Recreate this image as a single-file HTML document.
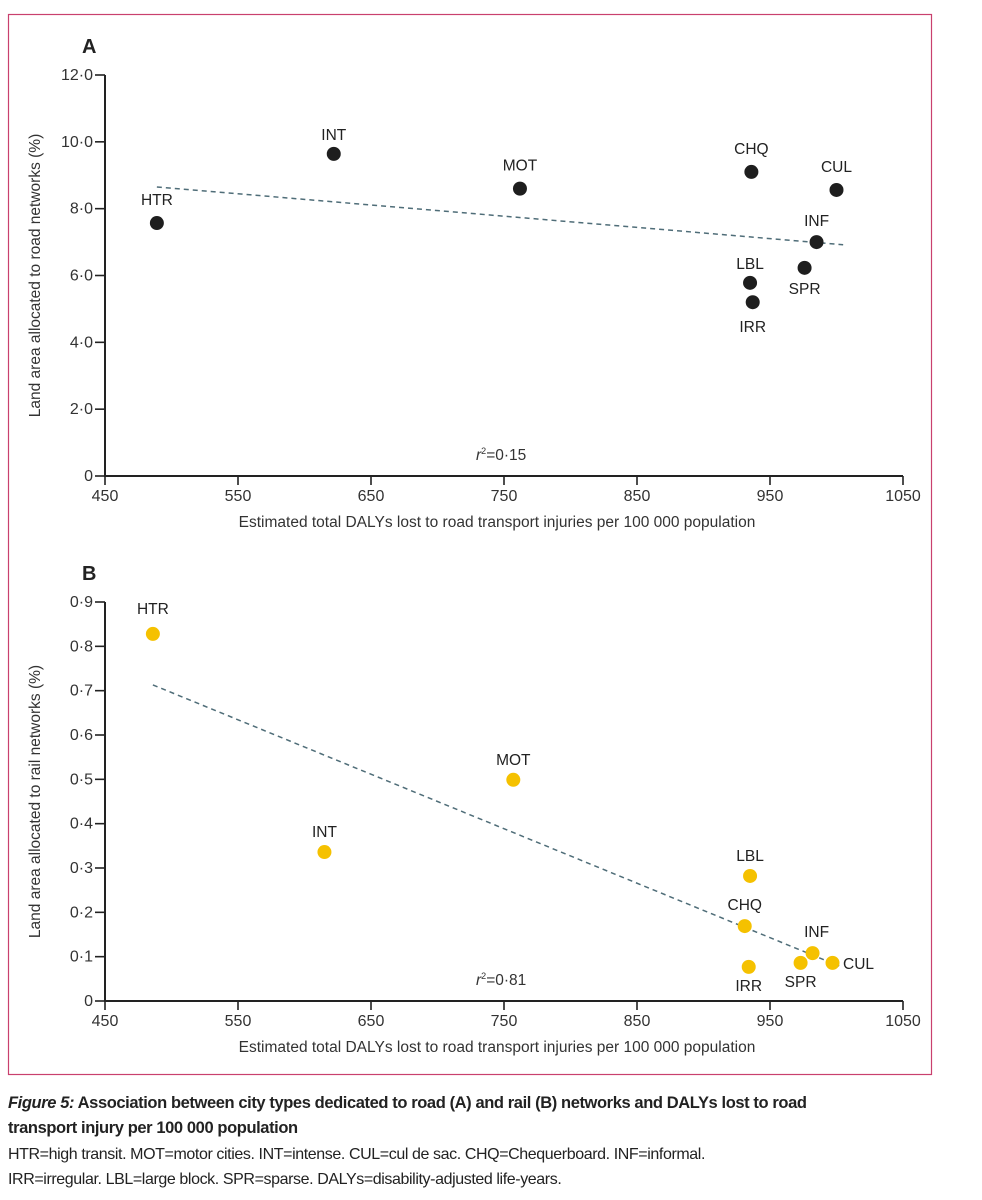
<!DOCTYPE html>
<html><head><meta charset="utf-8">
<style>
body{margin:0;background:#fff;width:982px;height:1200px;overflow:hidden;font-family:"Liberation Sans",sans-serif;}
svg{position:absolute;left:0;top:0}
.cap{position:absolute;left:8px;font-size:16.5px;color:#222;letter-spacing:-0.4px;}
</style></head><body>
<svg id="chart" width="982" height="1080"></svg>
<div class="cap" style="top:1091px;font-weight:bold;line-height:25px;width:840px"><i>Figure 5:</i> Association between city types dedicated to road (A) and rail (B) networks and DALYs lost to road transport injury per 100 000 population</div>
<div class="cap" style="top:1142px;line-height:25px;font-size:16px;width:960px">HTR=high transit. MOT=motor cities. INT=intense. CUL=cul de sac. CHQ=Chequerboard. INF=informal.<br>IRR=irregular. LBL=large block. SPR=sparse. DALYs=disability-adjusted life-years.</div>
<script>
const categories=["HTR","INT","MOT","CHQ","CUL","INF","SPR","LBL","IRR"];
const dalysA=[489,622,762,936,1000,985,976,935,937];
const roadValues=[7.57,9.64,8.6,9.1,8.56,7.0,6.23,5.78,5.2];
const dalysB=[486,615,757,931,997,982,973,935,934];
const railValues=[0.828,0.336,0.499,0.169,0.086,0.108,0.086,0.282,0.077];
const xTicks=[450,550,650,750,850,950,1050];
const roadTicks=[0,2,4,6,8,10,12];
const roadTickLabels=["0","2·0","4·0","6·0","8·0","10·0","12·0"];
const railTicks=[0,0.1,0.2,0.3,0.4,0.5,0.6,0.7,0.8,0.9];
const railTickLabels=["0","0·1","0·2","0·3","0·4","0·5","0·6","0·7","0·8","0·9"];
const trendA=[[489,8.65],[1005,6.92]];
const trendB=[[486,0.713],[1002,0.079]];
const offA={HTR:[0,-18],INT:[0,-14],MOT:[0,-18],CHQ:[0,-18],CUL:[0,-18],INF:[0,-16],SPR:[0,26],LBL:[0,-14],IRR:[0,30]};
const offB={HTR:[0,-20],INT:[0,-15],MOT:[0,-15],LBL:[0,-15],CHQ:[0,-16],INF:[4,-16],CUL:[26,6],SPR:[0,24],IRR:[0,24]};

const NS="http://www.w3.org/2000/svg";
const svg=document.getElementById('chart');
function mk(tag,attrs,txt){const e=document.createElementNS(NS,tag);for(const k in attrs)e.setAttribute(k,attrs[k]);if(txt!=null)e.textContent=txt;svg.appendChild(e);return e;}

const border=mk('rect',{x:8.5,y:14.5,width:923,height:1060,fill:'none',stroke:'#c9406e','stroke-width':1.2});



function panel(p){
  const xs=v=>105+(v-450)*(798/600);
  const ys=v=>p.y0-(v-0)*(p.h/p.ymax);
  const L=mk('text',{x:82,y:p.y0-p.h-22,'font-size':20,'font-weight':'bold',fill:'#222'},p.letter);
  
  
  const ya=mk('line',{x1:105,y1:ys(p.ymax),x2:105,y2:p.y0,stroke:'#222','stroke-width':2});
  
  
  const xa=mk('line',{x1:104,y1:p.y0,x2:xs(1050),y2:p.y0,stroke:'#222','stroke-width':2});
  
  
  p.yt.forEach((t,i)=>{
    const y=ys(t);
    const tk=mk('line',{x1:95,y1:y,x2:105,y2:y,stroke:'#222','stroke-width':1.6});
    
    
    const tl=mk('text',{x:93,y:y+5,'font-size':16,'text-anchor':'end',fill:'#333'},p.ytl[i]);
    
    
  });
  xTicks.forEach(t=>{
    const x=xs(t);
    const tk=mk('line',{x1:x,y1:p.y0,x2:x,y2:p.y0+9,stroke:'#222','stroke-width':1.6});
    
    
    const tl=mk('text',{x:x,y:p.y0+25,'font-size':16,'text-anchor':'middle',fill:'#333'},String(t));
    
    
  });
  const xt=mk('text',{x:497,y:p.y0+51,'font-size':15.5,'text-anchor':'middle',fill:'#333'},'Estimated total DALYs lost to road transport injuries per 100 000 population');
  
  
  const cy=(ys(p.ymax)+p.y0)/2;
  const yt=mk('text',{x:40,y:cy,'font-size':15.5,'text-anchor':'middle',fill:'#333',transform:'rotate(-90 40 '+cy+')'},p.ytitle);
  
  
  const tr=mk('line',{x1:xs(p.trend[0][0]),y1:ys(p.trend[0][1]),x2:xs(p.trend[1][0]),y2:ys(p.trend[1][1]),stroke:'#4f6d78','stroke-width':1.5,'stroke-dasharray':'5,4'});
  
  
  categories.forEach((c,i)=>{
    const x=xs(p.xv[i]),y=ys(p.yv[i]);
    const d=mk('circle',{cx:x,cy:y,r:7,fill:p.color});
    
    
    const o=p.off[c];
    const t=mk('text',{x:x+o[0],y:y+o[1],'font-size':15.5,'text-anchor':'middle',fill:'#222'},c);
    
    
  });
  const r=mk('text',{x:p.rx,y:p.ry,'font-size':15.5,fill:'#333'});
  
  
  r.innerHTML='<tspan font-style="italic">r</tspan><tspan dy="-6" font-size="9">2</tspan><tspan dy="6">=</tspan>'+p.r2;
}
panel({letter:'A',y0:476,h:401,ymax:12,yt:roadTicks,ytl:roadTickLabels,xv:dalysA,yv:roadValues,trend:trendA,off:offA,color:'#1e1e1e',ytitle:'Land area allocated to road networks (%)',rx:476,ry:460,r2:'0·15'});
panel({letter:'B',y0:1001,h:399,ymax:0.9,yt:railTicks,ytl:railTickLabels,xv:dalysB,yv:railValues,trend:trendB,off:offB,color:'#f5c100',ytitle:'Land area allocated to rail networks (%)',rx:476,ry:985,r2:'0·81'});
</script>
</body></html>
